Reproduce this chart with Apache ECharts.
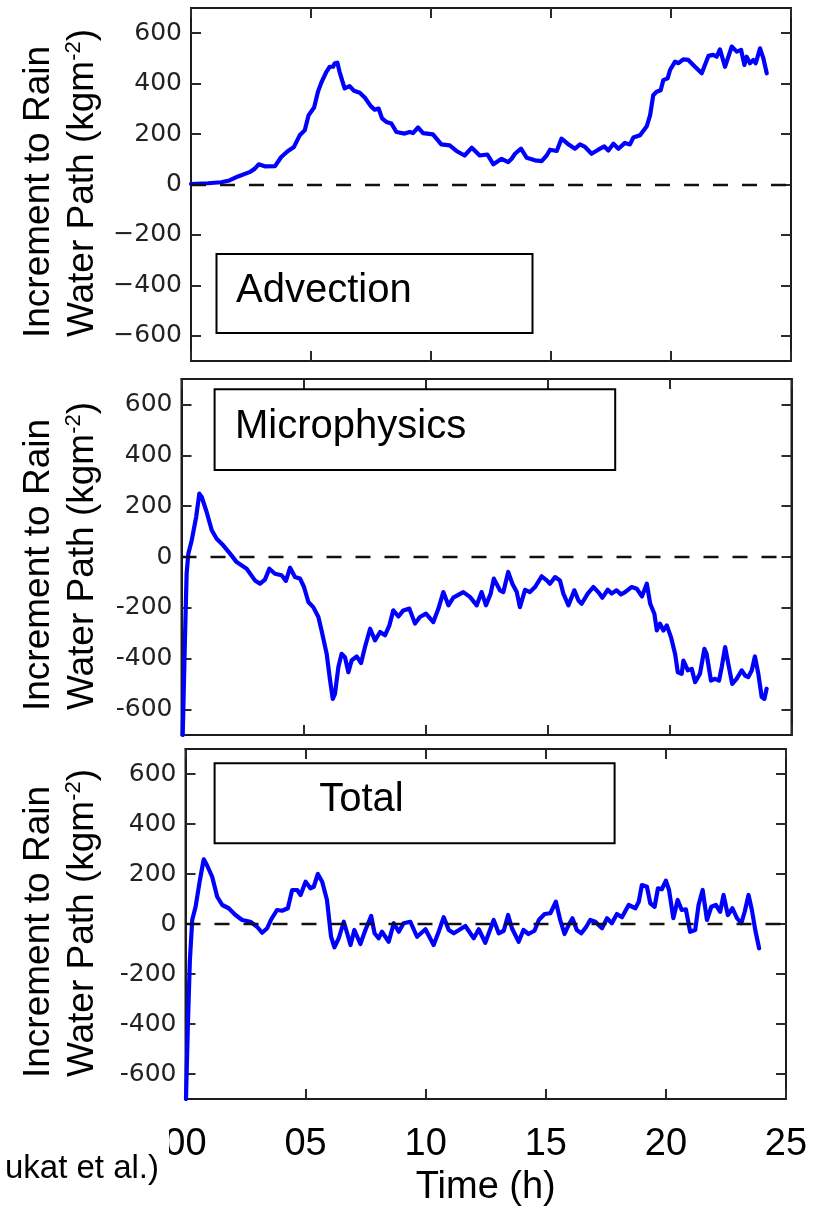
<!DOCTYPE html>
<html>
<head>
<meta charset="utf-8">
<script src="https://cdn.jsdelivr.net/npm/echarts@6/dist/echarts.min.js"></script>
<style>
  html, body { margin: 0; padding: 0; background: #fff; }
  #chart { width: 819px; height: 1209px; }
</style>
</head>
<body>
<div id="chart"></div>
<script>
// Time axis (hours) and rain-water-path increment ticks
const hourTicks = [0, 5, 10, 15, 20, 25];
const incrementTicks = [-600, -400, -200, 0, 200, 400, 600];
const panelNames = ['Advection', 'Microphysics', 'Total'];

// Advection increment to rain water path (kg m-2)
const advTime = [0, 0.7, 1.26, 1.6, 1.96, 2.44, 2.65, 2.82, 3.07, 3.5, 3.76, 4.04, 4.29, 4.53, 4.74, 4.9, 5.13, 5.29, 5.43, 5.64, 5.78, 5.92, 5.99, 6.1, 6.19, 6.4, 6.61, 6.79, 7.03, 7.24, 7.49, 7.65, 7.82, 7.96, 8.14, 8.35, 8.56, 8.9, 9.11, 9.25, 9.46, 9.67, 10.08, 10.43, 10.78, 11.06, 11.4, 11.7, 12.03, 12.35, 12.6, 12.94, 13.22, 13.36, 13.5, 13.75, 13.99, 14.33, 14.61, 14.82, 14.96, 15.24, 15.44, 15.69, 16.0, 16.21, 16.42, 16.69, 16.97, 17.22, 17.39, 17.6, 17.81, 18.08, 18.29, 18.43, 18.71, 18.99, 19.13, 19.26, 19.4, 19.57, 19.68, 19.86, 19.96, 20.17, 20.31, 20.51, 20.72, 21.0, 21.28, 21.56, 21.76, 21.9, 22.04, 22.25, 22.53, 22.74, 22.92, 23.06, 23.15, 23.29, 23.43, 23.53, 23.71, 23.85, 23.99];
const advValue = [2, 5, 9, 16, 32, 49, 62, 80, 72, 73, 109, 133, 149, 195, 215, 275, 305, 368, 404, 447, 467, 467, 481, 483, 447, 381, 390, 372, 364, 345, 311, 297, 301, 262, 248, 242, 208, 202, 208, 204, 226, 204, 199, 159, 155, 133, 115, 146, 115, 119, 80, 102, 89, 102, 122, 142, 106, 96, 93, 115, 138, 133, 182, 162, 142, 159, 149, 122, 138, 151, 135, 162, 142, 165, 159, 186, 195, 231, 275, 354, 368, 374, 414, 421, 454, 487, 481, 496, 494, 467, 441, 510, 514, 507, 536, 467, 547, 527, 534, 474, 507, 481, 494, 481, 540, 500, 441];

// Microphysics increment
const micTime = [0.05, 0.14, 0.21, 0.28, 0.42, 0.6, 0.73, 0.83, 1.03, 1.24, 1.44, 1.71, 1.99, 2.26, 2.67, 3.01, 3.22, 3.42, 3.6, 3.83, 4.1, 4.28, 4.45, 4.65, 4.86, 5.02, 5.2, 5.4, 5.61, 5.74, 5.95, 6.09, 6.2, 6.29, 6.43, 6.56, 6.7, 6.84, 6.97, 7.18, 7.36, 7.52, 7.73, 7.93, 8.14, 8.34, 8.52, 8.68, 8.89, 9.09, 9.34, 9.57, 9.77, 10.02, 10.32, 10.53, 10.73, 10.94, 11.14, 11.55, 11.82, 12.1, 12.3, 12.48, 12.67, 12.8, 13.05, 13.19, 13.39, 13.56, 13.74, 13.87, 14.08, 14.28, 14.49, 14.76, 14.97, 15.1, 15.31, 15.51, 15.65, 15.86, 16.1, 16.27, 16.4, 16.65, 16.88, 17.08, 17.25, 17.47, 17.63, 17.83, 18.01, 18.18, 18.45, 18.66, 18.87, 19.07, 19.21, 19.38, 19.48, 19.61, 19.75, 19.89, 20.06, 20.23, 20.34, 20.5, 20.57, 20.75, 20.91, 21.05, 21.25, 21.43, 21.52, 21.7, 21.87, 22.03, 22.14, 22.28, 22.41, 22.57, 22.75, 22.96, 23.1, 23.23, 23.37, 23.5, 23.64, 23.78, 23.89, 23.98];
const micValue = [-700, -328, -66, 13, 66, 157, 249, 236, 177, 105, 72, 46, 13, -20, -46, -92, -105, -89, -46, -66, -72, -94, -42, -79, -85, -118, -177, -197, -236, -289, -381, -486, -558, -538, -433, -381, -394, -453, -407, -391, -417, -354, -282, -328, -295, -308, -269, -210, -234, -210, -203, -262, -236, -223, -256, -203, -138, -190, -160, -138, -157, -190, -138, -190, -144, -85, -131, -138, -59, -105, -138, -197, -129, -138, -118, -76, -92, -105, -79, -92, -144, -190, -131, -171, -184, -144, -118, -138, -160, -129, -144, -131, -147, -138, -118, -125, -155, -105, -184, -223, -289, -262, -289, -269, -315, -381, -453, -459, -407, -446, -440, -492, -459, -361, -381, -486, -479, -486, -433, -354, -420, -499, -479, -446, -466, -472, -446, -391, -459, -551, -558, -518];

// Total increment
const totTime = [0.02, 0.1, 0.18, 0.28, 0.42, 0.6, 0.76, 0.89, 1.11, 1.32, 1.53, 1.8, 2.08, 2.36, 2.7, 2.98, 3.19, 3.4, 3.57, 3.81, 4.02, 4.26, 4.44, 4.65, 4.79, 5.0, 5.2, 5.34, 5.51, 5.69, 5.89, 6.06, 6.2, 6.38, 6.59, 6.73, 6.87, 7.03, 7.28, 7.49, 7.73, 7.87, 8.04, 8.18, 8.46, 8.67, 8.88, 9.08, 9.36, 9.64, 9.99, 10.33, 10.54, 10.75, 10.96, 11.17, 11.65, 12.0, 12.21, 12.48, 12.83, 13.04, 13.25, 13.43, 13.59, 13.87, 14.07, 14.28, 14.53, 14.71, 14.95, 15.19, 15.42, 15.6, 15.78, 15.95, 16.11, 16.29, 16.48, 16.67, 16.85, 17.06, 17.34, 17.55, 17.75, 17.96, 18.17, 18.45, 18.73, 18.87, 19.0, 19.21, 19.35, 19.53, 19.67, 19.83, 20.0, 20.13, 20.31, 20.49, 20.66, 20.83, 21.01, 21.22, 21.36, 21.53, 21.71, 21.89, 22.08, 22.26, 22.4, 22.58, 22.77, 22.96, 23.14, 23.28, 23.44, 23.58, 23.72, 23.88];
const totValue = [-700, -400, -150, 16, 69, 176, 259, 236, 189, 109, 76, 63, 36, 16, 9, -11, -35, -17, 19, 56, 53, 63, 136, 136, 116, 169, 143, 149, 200, 169, 96, -51, -93, -57, 9, -37, -84, -24, -80, -24, 32, -37, -57, -31, -71, 3, -31, 3, 9, -51, -21, -84, -31, 27, -24, -37, -8, -57, -21, -75, 16, -37, -27, 36, -17, -71, -24, -40, -27, 16, 40, 43, 89, 16, -40, -4, 23, -24, -37, -13, 16, 9, -17, 23, 3, 40, 27, 76, 63, 89, 156, 149, 83, 69, 143, 139, 173, 136, 23, 96, 56, 59, -31, -24, 76, 136, 16, 69, 76, 49, 116, 36, 63, 23, 3, 49, 116, 56, -24, -97];

const seriesTimes = [advTime, micTime, totTime];
const seriesValues = [advValue, micValue, totValue];

const SANS = '"Liberation Sans", Arial, Helvetica, sans-serif';
const DEJAVU = '"DejaVu Sans", Verdana, sans-serif';

// panel frames (pixels)
const frames = [
  { left: 191, top: 8, width: 600, height: 353 },
  { left: 181.5, top: 379, width: 610, height: 356 },
  { left: 185.5, top: 749, width: 600.5, height: 350 }
];

const frameLine = { show: true, onZero: false, lineStyle: { color: '#1c1c1c', width: 2 } };
const makeTick = extra => Object.assign(
  { show: true, inside: true, length: 10, lineStyle: { color: '#2a2a2a', width: 2 } }, extra || {});

const grid = [], xAxis = [], yAxis = [], series = [];

frames.forEach((f, i) => {
  grid.push(Object.assign({ show: true, borderColor: '#1c1c1c', borderWidth: 2 }, f));

  const bottomLabel = i === 2 ? {
    show: true, fontFamily: SANS, fontSize: 38, color: '#000', margin: 27,
    formatter: v => (v < 10 ? '0' : '') + v
  } : { show: false };

  xAxis.push({
    gridIndex: i, type: 'value', position: 'bottom', min: 0, max: 25, interval: 5,
    axisLine: frameLine, axisTick: makeTick(), splitLine: { show: false },
    axisLabel: bottomLabel,
    name: i === 2 ? 'Time (h)' : '', nameLocation: 'middle', nameGap: 70,
    nameTextStyle: { fontFamily: SANS, fontSize: 38, color: '#000' }
  });
  xAxis.push({
    gridIndex: i, type: 'value', position: 'top', min: 0, max: 25, interval: 5,
    axisLine: frameLine, axisTick: makeTick(), splitLine: { show: false },
    axisLabel: { show: false }
  });

  const fmt = i === 0 ? (v => (v < 0 ? '\u2212' + (-v) : String(v))) : (v => String(v));
  yAxis.push({
    gridIndex: i, type: 'value', position: 'left', min: -700, max: 700,
    axisLine: frameLine, splitLine: { show: false },
    axisTick: makeTick({ customValues: incrementTicks }),
    axisLabel: {
      customValues: incrementTicks, formatter: fmt, fontFamily: DEJAVU,
      fontSize: 25, color: '#222', margin: 9
    }
  });
  yAxis.push({
    gridIndex: i, type: 'value', position: 'right', min: -700, max: 700,
    axisLine: frameLine, splitLine: { show: false },
    axisTick: makeTick({ customValues: incrementTicks }),
    axisLabel: { show: false }
  });

  series.push({
    name: panelNames[i], type: 'line', xAxisIndex: 2 * i, yAxisIndex: 2 * i,
    data: seriesTimes[i].map((t, k) => [t, seriesValues[i][k]]),
    showSymbol: false, symbol: 'none', clip: true,
    lineStyle: { color: '#0000ff', width: 4.2, join: 'round', cap: 'round' },
    markLine: {
      silent: true, symbol: ['none', 'none'], label: { show: false },
      lineStyle: { color: '#111', width: 2.4, type: [15, 14] },
      data: [{ yAxis: 0 }], animation: false
    }
  });
});

// rotated axis titles, one pair per panel
const zeroLines = [184, 557, 924];
const titleGraphics = [];
zeroLines.forEach(y0 => {
  titleGraphics.push({
    type: 'text', x: 38.5, y: y0 + 8, rotation: Math.PI / 2, z: 12,
    style: {
      text: 'Increment to Rain', x: 0, y: 0, fill: '#000',
      font: '37px ' + SANS, align: 'center', verticalAlign: 'middle',
      textAlign: 'center', textVerticalAlign: 'middle'
    }
  });
  titleGraphics.push({
    type: 'text', x: 83, y: y0 - 1, rotation: Math.PI / 2, z: 12,
    style: {
      text: '{n|Water Path (kgm}{s|-2}{n|)}', x: 0, y: 0, fill: '#000',
      font: '37px ' + SANS, align: 'center', verticalAlign: 'middle',
      textAlign: 'center', textVerticalAlign: 'middle',
      rich: {
        n: { fontSize: 37, fontFamily: SANS, fill: '#000', lineHeight: 40 },
        s: { fontSize: 22, fontFamily: SANS, fill: '#000', verticalAlign: 'top' }
      }
    }
  });
});

// labelled boxes inside each panel
const boxes = [
  { x: 216.5, y: 254, w: 316, h: 79, tx: 236, ty: 291, align: 'left' },
  { x: 214.6, y: 389.3, w: 400.6, h: 80.7, tx: 235, ty: 427, align: 'left' },
  { x: 214.6, y: 763.3, w: 400, h: 80, tx: 361.5, ty: 800, align: 'center' }
];
const boxGraphics = [];
boxes.forEach((b, i) => {
  boxGraphics.push({
    type: 'rect', z: 10, shape: { x: b.x, y: b.y, width: b.w, height: b.h },
    style: { fill: '#fff', stroke: '#000', lineWidth: 2 }
  });
  boxGraphics.push({
    type: 'text', z: 11, x: b.tx, y: b.ty,
    style: {
      text: panelNames[i], x: 0, y: 0, fill: '#000', font: '40px ' + SANS,
      align: b.align, verticalAlign: 'middle',
      textAlign: b.align, textVerticalAlign: 'middle'
    }
  });
});

const option = {
  animation: false,
  grid, xAxis, yAxis, series,
  graphic: [
    // side sheet with the cut-off citation
    { type: 'rect', z: 20, shape: { x: 0, y: 1105, width: 169, height: 104 }, style: { fill: '#fff' } },
    {
      type: 'text', z: 21, x: 159, y: 1169,
      style: {
        text: 'ukat et al.)', x: 0, y: 0, fill: '#000', font: '33px ' + SANS,
        align: 'right', verticalAlign: 'middle', textAlign: 'right', textVerticalAlign: 'middle'
      }
    }
  ].concat(titleGraphics, boxGraphics)
};

const chart = echarts.init(document.getElementById('chart'));
chart.setOption(option);
</script>
</body>
</html>
